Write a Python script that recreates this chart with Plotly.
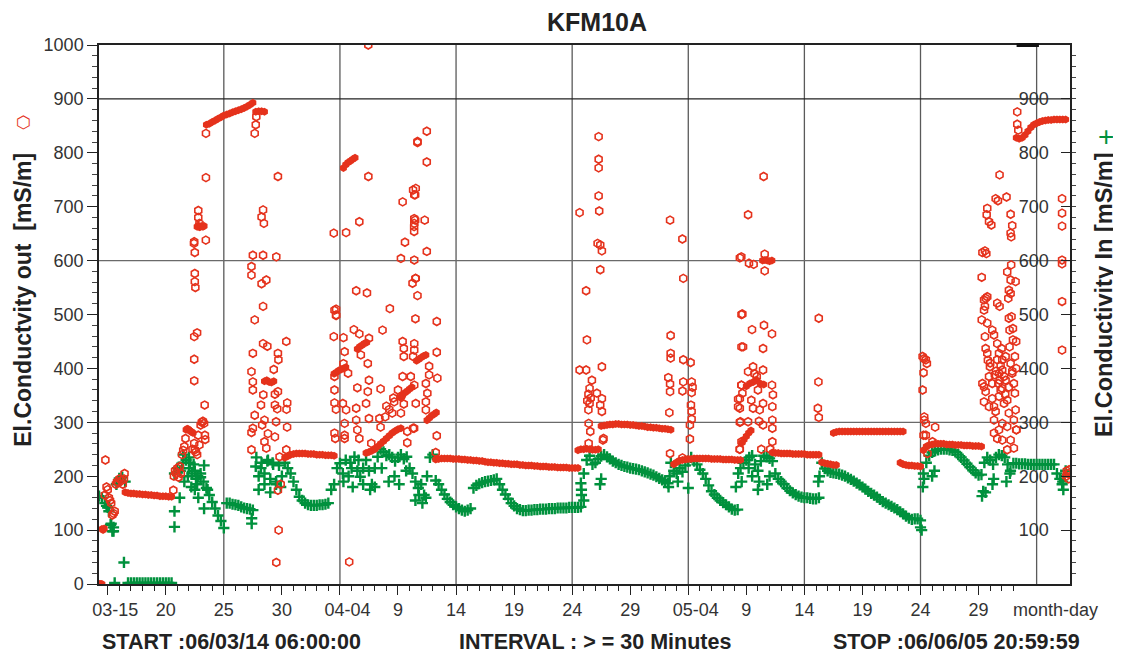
import pandas as pd
import plotly.graph_objects as go

# ---------------------------------------------------------------
# Day numbers: 1 = 2006-03-01 00:00 (April 1 = 32, May 1 = 62, June 1 = 93)
# Continuous bands are digitised every 6 hours (STEP days)
# ---------------------------------------------------------------
STEP = 0.25

# ---- El.Conductivity out : continuous bands (start day, values) ----
out_a_start = 16.5
out_a = [170, 169, 168, 168, 167, 167, 166, 166, 165, 165, 164, 164, 163, 163, 163, 162, 162]
out_b_start = 23.5
out_b = [852, 854, 857, 860, 863, 866, 869, 871, 873, 875, 877, 879, 881, 883, 886, 889, 893]
out_c_start = 27.75
out_c = [876, 877, 877, 876]
out_d_start = 30.25
out_d = [234, 237, 240, 241, 242, 242, 242, 242, 241, 241, 241, 240, 240, 240, 239, 239, 239, 238]
out_e_start = 37.25
out_e = [243, 245, 247, 250, 255, 260, 265, 270, 275, 280, 284, 287, 289]
out_f_start = 43.25
out_f = [231, 232, 233, 233, 233, 233, 232, 232, 232, 231, 231, 230, 230, 229, 229, 228, 228,
         227, 226, 226, 225, 225, 224, 224, 223, 223, 222, 222, 222, 221, 221, 220, 220, 220,
         219, 219, 218, 218, 218, 217, 217, 217, 216, 216, 216, 216, 215, 215, 215, 215]
out_g_start = 55.5
out_g = [248, 250, 250, 251, 250, 249, 249, 250]
out_h_start = 57.5
out_h = [293, 294, 295, 296, 296, 297, 297, 296, 296, 296, 295, 295, 294, 293, 293, 292, 291,
         291, 290, 290, 289, 288, 288, 287, 286]
out_i_start = 63.75
out_i = [222, 226, 229, 230, 231, 232, 232, 233, 233, 233, 233, 233, 233, 232, 232, 232, 232,
         231, 231, 231, 231, 230, 230, 230]
out_j_start = 72.25
out_j = [244, 243, 243, 242, 242, 242, 242, 241, 241, 241, 241, 241, 240, 240, 240, 240, 240]
out_k_start = 76.5
out_k = [226, 224, 223, 222, 221, 221]
out_l_start = 77.5
out_l = [280, 282, 283, 283, 283, 283, 283, 283, 283, 283, 283, 283, 283, 283, 283, 283, 283,
         283, 283, 283, 283, 283, 283, 283, 283]
out_m_start = 83.25
out_m = [225, 222, 221, 220, 220, 219, 219, 218]
out_n_start = 85.25
out_n = [248, 255, 258, 259, 260, 260, 260, 260, 259, 259, 259, 258, 258, 258, 257, 257, 257,
         256, 256, 256, 255]
out_o_start = 93.25
out_o = [828, 826, 828, 833, 840, 847, 852, 855, 857, 859, 860, 861, 861, 862, 862, 862, 862, 862]

# ---- El.Conductivity out : dense clusters ----
out_cl_day = [14.3, 14.4, 14.5, 14.5, 14.6, 14.7, 21.75, 21.85, 21.95, 22.05, 22.15, 22.25, 22.35,
              22.7, 22.8, 22.9, 23.0, 23.1, 23.2, 23.3, 28.5, 28.7, 28.9, 29.1, 29.3,
              34.5, 34.7, 34.9, 35.1, 35.3, 35.5, 35.3, 35.5, 35.7, 35.9, 36.1, 36.3,
              36.5, 36.7, 36.9, 37.1, 37.3, 40.2, 40.4, 40.6, 40.8, 41.0, 41.2,
              41.6, 41.8, 42.0, 42.2, 42.4, 42.5, 42.7, 42.9, 43.1, 43.3,
              71.4, 71.6, 71.8, 72.0, 72.2, 70.0, 70.3, 70.6, 70.9, 71.2, 71.5,
              69.6, 69.8, 70.0, 70.2, 70.4]
out_cl_val = [0, 0, 0, 102, 100, 103, 286, 288, 287, 285, 283, 282, 280,
              663, 665, 662, 663, 664, 663, 664, 376, 378, 375, 374, 376,
              390, 393, 396, 398, 400, 402, 772, 778, 782, 785, 788, 791,
              436, 440, 443, 446, 448, 346, 350, 355, 358, 362, 365,
              414, 417, 420, 423, 425, 304, 308, 312, 315, 318,
              600, 601, 600, 599, 600, 367, 372, 375, 378, 372, 370,
              262, 268, 274, 280, 285]

# ---- El.Conductivity out : scattered readings ----
out_pt_day = [14.8, 14.75, 14.9, 15.0, 15.1, 15.2, 15.3, 15.4, 15.5, 15.6, 15.7, 15.8, 15.9, 16.0,
              16.2, 16.3, 16.45, 16.4,
              20.65, 20.7, 20.8, 20.9, 21.0, 21.1, 21.2, 21.3, 21.4, 21.5, 21.6, 21.7, 22.3, 22.45,
              22.5, 22.6, 22.7, 22.8, 22.9, 23.0, 23.1, 23.2, 23.3, 23.37, 23.4, 23.35,
              22.43, 22.5, 22.5, 22.5, 22.55, 22.45, 22.7, 22.45, 22.45, 22.8, 22.8, 22.9, 23.45,
              23.46, 23.46, 22.45,
              27.38, 27.38, 27.5, 27.66, 27.5, 27.5, 27.38, 27.5, 27.66, 27.38, 27.38, 27.5, 28.38,
              28.25, 28.38, 28.38, 28.25, 28.38, 28.45, 27.66, 27.75, 27.8,
              29.66, 29.52, 28.66, 28.75, 30.38, 29.66, 29.7, 29.3, 28.4, 29.4, 29.66, 28.2, 29.4,
              30.46, 29.6, 30.4, 28.5, 29.5, 28.3, 28.8, 29.4, 30.45, 28.5, 28.66, 29.8, 29.66,
              29.72, 29.52, 30.38, 29.9,
              34.53, 34.67, 34.47, 35.3, 34.53, 34.53, 34.53, 34.66, 34.53, 34.6, 35.4, 35.3, 35.4,
              35.4, 35.25, 35.53, 35.7, 36.4, 36.5, 36.2, 36.67, 37.5, 36.4, 37.33, 36.67, 37.45,
              34.47, 35.53, 35.8, 35.4, 36.67, 36.4, 37.4, 37.5, 37.4, 37.25, 37.5, 37.7, 36.5,
              36.8, 38.67, 39.3, 38.5, 38.4, 38.5, 39.67, 39.25, 39.5, 40.4, 40.5, 40.5, 40.4,
              40.25, 40.5, 40.25, 40.4, 41.3, 41.4, 41.4, 41.4, 41.68, 40.6, 40.25, 41.4, 41.25,
              41.5, 41.68, 41.5, 41.4, 41.4, 41.3, 41.1, 41.4, 41.3, 40.8, 40.8, 37.44,
              34.67, 34.67, 39.0, 39.6, 38.9, 40.0,
              42.48, 41.68, 42.48, 41.53, 41.48, 42.3, 41.48, 41.39, 41.39, 42.48, 41.53, 43.34,
              43.34, 43.39, 42.68, 42.68, 42.4, 42.53, 42.4, 41.53, 42.4, 43.34, 43.25, 41.39,
              55.64, 55.64,
              56.2, 56.27, 56.2, 56.7, 57.28, 57.28, 57.28, 57.28, 57.33, 57.19, 57.42, 57.56,
              57.42, 57.56, 56.4, 56.5, 56.6, 56.4, 56.5, 56.3, 56.42, 56.56, 56.42, 57.13, 57.56,
              57.42, 57.56, 57.7, 57.65,
              63.43, 64.49, 64.57, 63.48, 63.48, 63.48, 64.57, 65.2, 63.28, 63.43, 63.43, 64.57,
              64.5, 65.29, 65.37, 65.29, 65.23, 65.29, 65.29, 65.14, 65.14, 63.37, 63.43, 64.5,
              69.44, 69.58, 69.58, 69.58, 69.44, 69.44, 69.44, 69.58, 69.44,
              71.49, 70.15, 69.57, 70.23, 70.63, 71.58, 71.58, 69.66, 70.49, 71.52, 72.21, 69.72,
              71.44, 70.58, 71.44, 70.15, 69.57, 72.21, 69.66, 72.29, 69.29, 70.43, 71.44, 69.29,
              70.58, 71.15, 72.24, 69.49, 70.15, 71.09, 71.44, 72.24, 72.24, 72.24, 69.43, 71.29,
              72.06, 70.9, 71.0, 70.7,
              76.24, 76.21, 76.16, 76.24,
              85.18, 85.3, 85.46, 85.55, 85.26, 85.18, 85.32, 85.32, 85.26, 85.46, 85.46, 86.26,
              86.03, 85.6,
              90.27, 90.27, 90.47, 90.47, 90.55, 90.61, 90.75, 90.55, 90.61, 90.75, 90.33, 90.47,
              90.61, 90.47, 90.9, 90.75, 90.98, 91.18, 91.33, 91.18, 91.18, 90.9, 91.33, 91.47,
              91.33, 91.33, 91.61, 91.76, 91.61, 91.76, 91.61, 91.76, 91.81, 91.9, 91.76, 91.61,
              91.98, 92.04, 92.04, 92.04, 92.19, 92.04, 92.04, 92.47, 92.33, 92.33, 92.47, 92.61,
              92.47, 92.76, 92.67, 92.76, 92.9, 93.04, 93.13, 93.19, 93.24, 93.04, 92.96, 93.13,
              93.24, 93.04, 93.24, 91.5, 91.9, 92.2, 92.6, 91.0, 91.4, 92.3, 92.9, 90.8, 91.7,
              90.33, 90.55, 90.67, 90.75, 90.7, 90.9, 91.1, 91.47, 91.67, 91.81, 92.41, 91.81,
              92.47, 92.61, 92.76, 92.56, 92.61, 92.84, 92.96, 92.67, 92.76, 92.9, 92.76, 92.81,
              92.81, 92.76, 93.19, 93.33, 93.33, 93.42, 93.27,
              97.19, 97.19, 97.19, 97.19, 97.19, 97.19, 97.19,
              97.55, 97.6, 97.7, 97.75, 97.8]
out_pt_val = [230, 165, 180, 175, 160, 155, 150, 128, 131, 135, 185, 190, 188, 195,
              192, 185, 205, 195,
              174, 200, 210, 205, 215, 198, 218, 205, 240, 248, 255, 270, 250, 261,
              249, 245, 240, 276, 258, 295, 300, 302, 298, 276, 268, 332,
              632, 615, 576, 561, 550, 459, 466, 417, 377, 693, 680, 669, 638,
              754, 836, 635,
              249, 281, 289, 313, 360, 375, 394, 428, 490, 573, 589, 610, 610,
              557, 515, 446, 681, 694, 669, 836, 852, 867,
              756, 607, 564, 441, 450, 428, 416, 398, 351, 352, 357, 332, 332,
              336, 325, 324, 304, 301, 295, 279, 273, 291, 264, 252, 236, 174,
              100, 40, 249, 185,
              508, 498, 459, 457, 385, 360, 336, 324, 280, 270, 431, 409, 298,
              276, 335, 323, 391, 326, 364, 472, 464, 456, 544, 540, 672, 756,
              651, 652, 41, 270, 270, 304, 357, 378, 409, 335, 307, 261, 286,
              425, 471, 511, 362, 307, 291, 338, 324, 317, 450, 437, 422, 385,
              348, 334, 317, 709, 731, 678, 669, 722, 821, 634, 604, 601, 558,
              567, 535, 492, 446, 434, 422, 385, 369, 289, 283, 262, 1000,
              510, 499, 330, 345, 310, 360,
              840, 819, 783, 734, 722, 675, 675, 663, 654, 617, 567, 487,
              430, 382, 404, 388, 372, 354, 338, 335, 323, 275, 244, 289,
              689, 397,
              544, 453, 397, 378, 830, 788, 772, 720, 692, 632, 629, 618,
              583, 403, 323, 335, 345, 352, 363, 340, 298, 283, 261, 354, 344,
              332, 320, 270, 267,
              675, 640, 567, 461, 428, 419, 416, 411, 383, 371, 357, 375,
              358, 375, 365, 355, 332, 320, 306, 295, 269, 318, 242, 234,
              605, 500, 440, 369, 344, 326, 300, 264, 250,
              756, 685, 607, 595, 593, 612, 581, 501, 472, 480, 464, 440,
              437, 403, 397, 394, 369, 369, 354, 351, 343, 341, 335, 329,
              326, 323, 329, 301, 301, 302, 295, 304, 289, 264, 250, 250,
              250, 385, 360, 390,
              493, 375, 326, 309,
              422, 418, 416, 409, 392, 360, 310, 304, 276, 276, 298, 291,
              264, 242,
              569, 490, 508, 527, 515, 530, 533, 459, 437, 484, 372, 366,
              357, 338, 385, 428, 403, 471, 462, 372, 344, 329, 329, 320,
              304, 280, 270, 286, 446, 428, 416, 391, 378, 360, 348, 521,
              437, 416, 397, 363, 335, 298, 267, 249, 422, 378, 341, 317,
              292, 267, 440, 409, 391, 372, 354, 323, 286, 252, 453, 422,
              400, 304, 450, 395, 405, 385, 365, 410, 388, 352, 395, 415, 372,
              615, 618, 613, 697, 685, 672, 666, 715, 711, 759, 718, 515,
              579, 545, 539, 530, 493, 496, 474, 471, 686, 665, 651, 644,
              592, 564, 561, 876, 853, 842, 286,
              715, 688, 664, 601, 594, 524, 434,
              200, 210, 205, 195, 212]

# ---- El.Conductivity In : continuous bands (start day, values) ----
in_a_start = 14.25
in_a = [163, 160, 150, 142, 110, 98, 185, 196, 198, 190]
in_b_start = 16.75
in_b = [2, 2, 2, 2, 2, 2, 2, 2, 2, 2, 2, 2, 2, 2, 2, 2]
in_c_start = 20.75
in_c = [205, 215, 210, 225, 230, 215, 205, 210, 200, 198, 190, 178, 165, 152, 140, 127, 117, 104]
in_d_start = 25.25
in_d = [150, 150, 148, 147, 146, 143, 141, 140, 139, 137]
in_e_start = 27.75
in_e = [218, 200, 225, 205, 228, 195, 222, 185, 220, 200, 225, 215, 205, 190, 175, 162, 155, 150,
        147, 146, 146, 146, 147, 147, 148, 150, 175, 185]
in_f_start = 34.75
in_f = [215, 224, 205, 230, 200, 215, 236, 210, 199, 215, 230, 210, 185, 215, 236, 250, 245,
        238, 240, 235, 228, 235, 240, 232, 236, 215, 205, 190, 178, 185, 165, 200, 235, 240]
in_g_start = 43.25
in_g = [192, 185, 175, 166, 158, 152, 147, 143, 140, 137, 135, 137, 140]
in_h_start = 46.5
in_h = [178, 183, 186, 188, 190, 191, 192, 193, 195, 185, 175, 166, 158, 150, 145, 140, 138, 136,
        136, 137, 137, 138, 138, 139, 139, 139, 140, 140, 140, 141, 141, 141, 141, 142, 142, 142,
        142, 143]
in_j_start = 56.0
in_j = [205, 230, 238, 222, 225, 232, 237, 240, 236, 232, 228, 225, 222, 220, 218, 217, 215, 214,
        213, 212, 210, 208, 206, 204, 202, 199, 196, 193, 190, 187, 225, 210, 205, 215, 208, 220,
        228, 235, 228, 222, 212, 205, 195, 183, 172, 166, 160, 155, 151, 147, 143, 139, 137, 138]
in_k_start = 69.5
in_k = [215, 225, 230, 235, 238, 222, 210, 228, 238, 236, 233, 228, 205, 195, 190, 185, 178, 173,
        169, 166, 163, 161, 160, 160, 159, 158, 158, 160]
in_l_start = 76.5
in_l = [225, 214, 210, 207, 206, 205, 204, 202, 200, 197, 194, 191, 187, 184, 180, 176, 172, 168,
        165, 161, 157, 153, 150, 147, 144, 141, 138, 134, 130, 126, 122, 120, 121, 121, 118]
in_m_start = 85.25
in_m = [205, 225, 238, 244, 247, 249, 250, 250, 250, 249, 248, 245, 240, 235, 229, 223, 217, 211,
        206, 202, 203, 225, 235, 230, 222, 235, 240, 238, 235, 222, 210, 224, 224, 223, 223, 223,
        222, 222, 222, 222, 222, 222, 222, 222, 222, 222, 205, 195, 190, 210]

# ---- El.Conductivity In : scattered readings ----
in_pt_day = [15.6, 16.4, 15.4, 15.5, 15.3, 14.9, 15.1,
             20.75, 20.75, 21.2, 21.5, 22.0, 22.2, 22.5, 22.7, 22.8, 23.0, 23.3, 23.3, 23.6, 22.4,
             21.9, 21.6, 21.4, 22.1, 22.6,
             27.4, 27.4, 28.0, 28.5, 29.0, 28.8, 29.5, 27.8, 29.9, 28.2, 29.2,
             35.3, 36.1, 37.0, 37.6, 38.0, 36.6, 39.2, 40.1, 40.7, 41.5, 42.1, 41.8, 42.4, 39.7,
             38.6, 35.9,
             55.8, 55.8, 56.0, 57.4, 57.5, 55.75,
             63.4, 63.3, 65.0, 64.1,
             69.1, 69.6, 70.5, 71.0, 71.1, 71.8, 72.0, 69.3, 70.2,
             76.2, 76.3,
             85.1, 85.0, 85.2, 85.3, 86.2, 86.0,
             90.3, 90.6, 91.2, 91.3, 92.4, 92.7, 90.4,
             97.2, 97.3, 97.4]
in_pt_val = [2, 40, 98, 105, 112, 145, 135,
             135, 106, 160, 240, 235, 180, 175, 185, 160, 205, 220, 140, 175, 222,
             200, 190, 215, 225, 195,
             122, 112, 175, 185, 170, 230, 190, 235, 180, 215, 225,
             190, 180, 185, 175, 180, 230, 190, 185, 210, 155, 150, 165, 160, 200,
             215, 225,
             165, 175, 155, 185, 195, 187,
             200, 180, 178, 190,
             180, 190, 200, 175, 190, 185, 200, 205, 215,
             190, 200,
             100, 105, 180, 195, 210, 200,
             163, 170, 185, 195, 190, 205, 172,
             185, 175, 200]

# axis / label texts
x_tick_dates = ["2006-03-15", "2006-03-20", "2006-03-25", "2006-03-30", "2006-04-04",
                "2006-04-09", "2006-04-14", "2006-04-19", "2006-04-24", "2006-04-29",
                "2006-05-04", "2006-05-09", "2006-05-14", "2006-05-19", "2006-05-24",
                "2006-05-29", "2006-06-03"]
NB = "\u00a0"
x_tick_text = [NB * 3 + "03-15", "20", "25", "30", NB * 3 + "04-04", "9", "14", "19", "24", "29",
               NB * 3 + "05-04", "9", "14", "19", "24", "29", ""]
x_end_label = "month-day"
grid_dates = ["2006-03-25", "2006-04-04", "2006-04-14", "2006-04-24", "2006-05-04",
              "2006-05-14", "2006-05-24", "2006-06-03"]
grid_levels = [300, 600, 900]
START = "2006-03-14 06:00:00"
STOP = "2006-06-05 20:59:59"


def to_dates(days):
    base = pd.Timestamp("2006-03-01")
    return [base + pd.Timedelta(days=d - 1) for d in days]


def bands(pairs):
    xs, ys = [], []
    for start, vals in pairs:
        for i, v in enumerate(vals):
            xs.append(start + STEP * i)
            ys.append(v)
    return to_dates(xs), ys


RED = "#e5321c"
GREEN = "#00913d"

out_bx, out_by = bands([(out_a_start, out_a), (out_b_start, out_b), (out_c_start, out_c),
                        (out_d_start, out_d), (out_e_start, out_e), (out_f_start, out_f),
                        (out_g_start, out_g), (out_h_start, out_h), (out_i_start, out_i),
                        (out_j_start, out_j), (out_k_start, out_k), (out_l_start, out_l),
                        (out_m_start, out_m), (out_n_start, out_n), (out_o_start, out_o)])
in_bx, in_by = bands([(in_a_start, in_a), (in_b_start, in_b), (in_c_start, in_c),
                      (in_d_start, in_d), (in_e_start, in_e), (in_f_start, in_f),
                      (in_g_start, in_g), (in_h_start, in_h), (in_j_start, in_j),
                      (in_k_start, in_k), (in_l_start, in_l), (in_m_start, in_m)])

fig = go.Figure()
green_marker = dict(symbol="cross-thin-open", size=8, color=GREEN, line=dict(color=GREEN, width=2.4))
fig.add_trace(go.Scatter(x=in_bx, y=in_by, mode="markers", marker=green_marker,
                         yaxis="y", showlegend=False, hoverinfo="skip"))
fig.add_trace(go.Scatter(x=to_dates(in_pt_day), y=in_pt_val, mode="markers", marker=green_marker,
                         yaxis="y", showlegend=False, hoverinfo="skip"))
fig.add_trace(go.Scatter(x=out_bx, y=out_by, mode="markers",
                         marker=dict(symbol="hexagon", size=8, color=RED, line=dict(width=0)),
                         yaxis="y2", showlegend=False, hoverinfo="skip"))
fig.add_trace(go.Scatter(x=to_dates(out_cl_day), y=out_cl_val, mode="markers",
                         marker=dict(symbol="hexagon", size=8, color=RED, line=dict(width=0)),
                         yaxis="y2", showlegend=False, hoverinfo="skip"))
fig.add_trace(go.Scatter(x=to_dates(out_pt_day), y=out_pt_val, mode="markers",
                         marker=dict(symbol="hexagon-open", size=8, color=RED,
                                     line=dict(color=RED, width=1.6)),
                         yaxis="y2", showlegend=False, hoverinfo="skip"))

shapes = []
for g in grid_dates:
    shapes.append(dict(type="line", xref="x", yref="paper", x0=g, x1=g, y0=0, y1=1,
                       line=dict(color="#5a5a5a", width=1.3), layer="below"))
for lv in grid_levels:
    shapes.append(dict(type="line", xref="paper", yref="y", x0=0, x1=1, y0=lv, y1=lv,
                       line=dict(color="#222" if lv == 900 else "#6a6a6a", width=1.3),
                       layer="below"))
shapes.append(dict(type="line", xref="paper", yref="paper", x0=0.945, x1=0.968, y0=1, y1=1,
                   line=dict(color="#111", width=4)))

FONT = "Liberation Sans, Arial"
tickfont = dict(family=FONT, size=18, color="#333")
botfont = dict(family=FONT, size=21.5, color="#222")

annotations = [
    dict(text="<b>El.Conductvity out \u00a0[mS/m]</b>", xref="paper", yref="paper", x=-0.0785,
         y=0.527, textangle=-90, showarrow=False, font=dict(family=FONT, size=23, color="#222"),
         xanchor="center", yanchor="middle"),
    dict(text="⬡", xref="paper", yref="paper", x=-0.0775, y=0.858, showarrow=False,
         font=dict(family="DejaVu Sans", size=17, color=RED), xanchor="center", yanchor="middle"),
    dict(text="<b>El.Conductivity In [mS/m]</b>", xref="paper", yref="paper", x=1.0345,
         y=0.537, textangle=-90, showarrow=False, font=dict(family=FONT, size=23.5, color="#222"),
         xanchor="center", yanchor="middle"),
    dict(text="+", xref="paper", yref="paper", x=1.0371, y=0.831, showarrow=False,
         font=dict(family=FONT, size=28, color=GREEN), xanchor="center", yanchor="middle"),
    dict(text=x_end_label, xref="x", yref="paper", x=x_tick_dates[-1], y=-0.048, xshift=19,
         showarrow=False, font=tickfont, xanchor="center", yanchor="middle"),
    dict(text="<b>START :06/03/14 06:00:00</b>", xref="paper", yref="paper", x=0.001, y=-0.1076,
         showarrow=False, font=botfont, xanchor="left", yanchor="middle"),
    dict(text="<b>INTERVAL : > = 30 Minutes</b>", xref="paper", yref="paper", x=0.5108,
         y=-0.1076, showarrow=False, font=botfont, xanchor="center", yanchor="middle"),
    dict(text="<b>STOP :06/06/05 20:59:59</b>", xref="paper", yref="paper", x=1.0124, y=-0.1076,
         showarrow=False, font=botfont, xanchor="right", yanchor="middle"),
]

# the page adds an 8 px body margin, so the figure is 8 px smaller and margins shifted
fig.update_layout(
    width=1113, height=645,
    margin=dict(l=91, r=51, t=37, b=69, autoexpand=False),
    paper_bgcolor="white", plot_bgcolor="white",
    title=dict(text="<b>KFM10A</b>", x=0.5292, xanchor="center", y=0.978, yanchor="middle",
               font=dict(family=FONT, size=25, color="#222")),
    xaxis=dict(type="date", range=[START, STOP], tickvals=x_tick_dates, ticktext=x_tick_text,
               tickangle=0, automargin=False,
               showgrid=False, zeroline=False, showline=True, linecolor="#222", linewidth=1.5,
               mirror=True, ticks="outside", ticklen=9, tickwidth=1.2, tickcolor="#222",
               tickfont=tickfont, ticklabelstandoff=0,
               minor=dict(dtick=86400000, tick0="2006-03-01", ticks="outside", ticklen=5,
                          tickwidth=1, tickcolor="#222", showgrid=False)),
    yaxis=dict(range=[0, 1000], tickvals=[0, 100, 200, 300, 400, 500, 600, 700, 800, 900, 1000],
               automargin=False,
               showgrid=False, zeroline=False, showline=True, linecolor="#222", linewidth=1.5,
               ticks="outside", ticklen=10, tickwidth=1.2, tickcolor="#222", tickfont=tickfont,
               minor=dict(dtick=20, ticks="outside", ticklen=5, tickwidth=1, tickcolor="#444",
                          showgrid=False)),
    yaxis2=dict(range=[0, 1000], overlaying="y", side="right", automargin=False,
                tickvals=[100, 200, 300, 400, 500, 600, 700, 800, 900],
                showgrid=False, zeroline=False, showline=True, linecolor="#222", linewidth=1.5,
                ticks="inside", ticklen=9, tickwidth=1.2, tickcolor="#222",
                ticklabelposition="inside", tickfont=tickfont, ticklabelstandoff=13,
                minor=dict(dtick=20, ticks="outside", ticklen=4, tickwidth=1, tickcolor="#444",
                           showgrid=False)),
    shapes=shapes,
    annotations=annotations,
)

fig.write_html("out.html")
